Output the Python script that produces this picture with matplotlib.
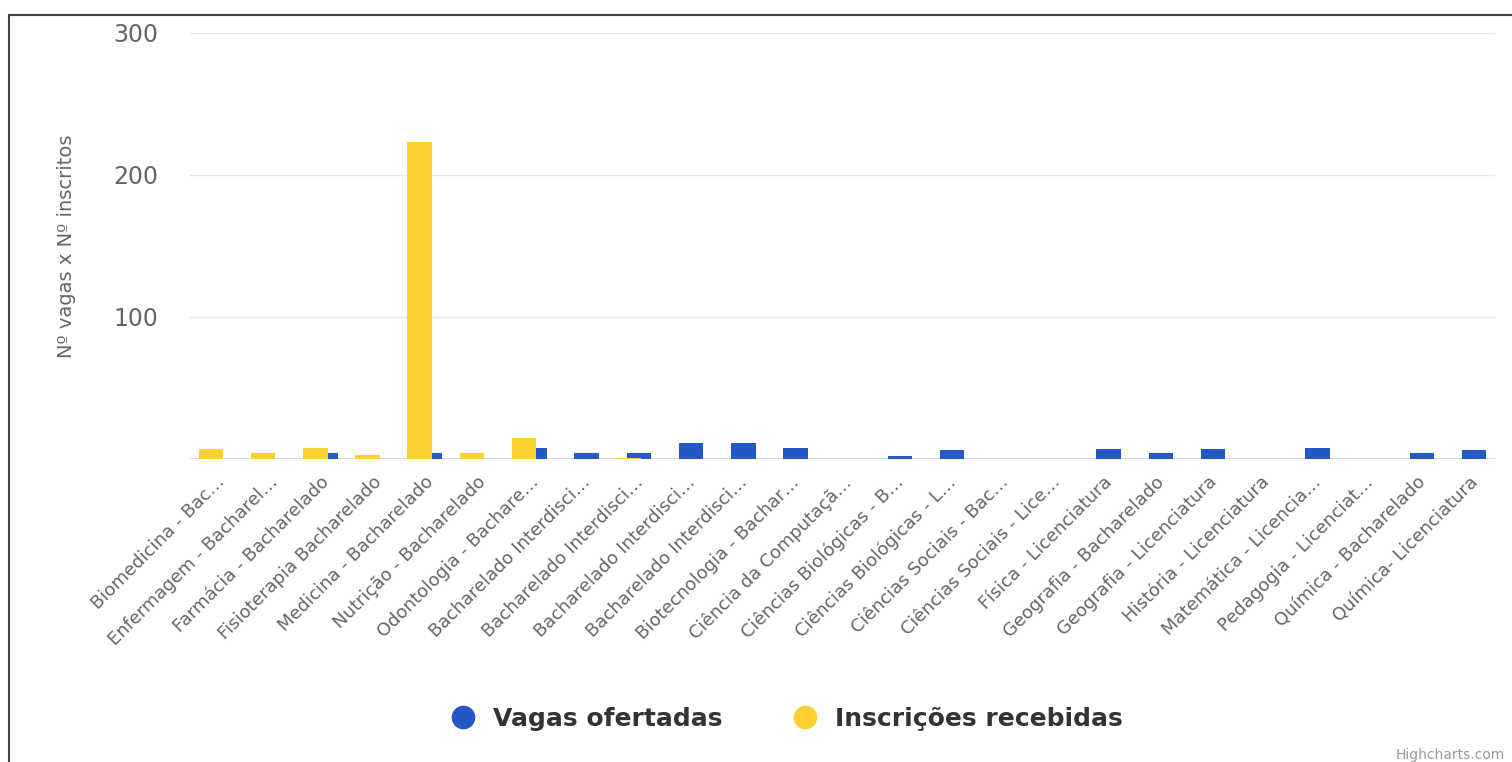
import matplotlib.pyplot as plt
from matplotlib.lines import Line2D
from matplotlib.patches import Rectangle
import numpy as np

cursos = ["Biomedicina - Bac…", "Enfermagem - Bacharel…", "Farmácia - Bacharelado",
          "Fisioterapia Bacharelado", "Medicina - Bacharelado", "Nutrição - Bacharelado",
          "Odontologia - Bachare…", "Bacharelado Interdisci…", "Bacharelado Interdisci…",
          "Bacharelado Interdisci…", "Bacharelado Interdisci…", "Biotecnologia - Bachar…",
          "Ciência da Computaçã…", "Ciências Biológicas - B…", "Ciências Biológicas - L…",
          "Ciências Sociais - Bac…", "Ciências Sociais - Lice…", "Física - Licenciatura",
          "Geografia - Bacharelado", "Geografia - Licenciatura", "História - Licenciatura",
          "Matemática - Licencia…", "Pedagogia - Licenciat…", "Química - Bacharelado",
          "Química- Licenciatura"]
vagas = [0, 0, 4, 0, 4, 0, 8, 4, 4, 11, 11, 8, 0, 2, 6, 0, 0, 7, 4, 7, 0, 8, 0, 4, 6]
inscricoes = [7, 4, 8, 3, 223, 4, 15, 0, 1, 0, 0, 0, 0, 0, 0, 0, 0, 0, 0, 0, 0, 0, 0, 0, 0]

azul = '#2458c6'
amarelo = '#fdd12f'

fig = plt.figure(figsize=(15.12, 7.62), dpi=100)
ax = fig.add_axes([190/1512, 1-459/762, 1305/1512, (459-33)/762])

x = np.arange(len(cursos))
w = 0.47
ax.bar(x + 0.1, vagas, width=w, color=azul, zorder=2)
ax.bar(x - 0.1, inscricoes, width=w, color=amarelo, zorder=3)

ax.set_xlim(-0.5, len(cursos) - 0.5)
ax.set_ylim(0, 300)
ax.set_yticks([0, 100, 200, 300])
ax.set_yticklabels(['', '100', '200', '300'], fontsize=17, color='#666666')
ax.grid(axis='y', color='#e6e6e6', lw=1, zorder=0)
ax.axhline(0, color='#ccd6eb', lw=1.2, zorder=1)
for s in ax.spines.values():
    s.set_visible(False)
ax.tick_params(axis='y', length=0, pad=23)
ax.tick_params(axis='x', length=0, pad=10)
ax.set_xticks(x)
ax.set_xticklabels(cursos, rotation=45, ha='right', rotation_mode='anchor',
                   fontsize=13, color='#666666')
ax.set_ylabel("Nº vagas x Nº inscritos", fontsize=14, color='#666666', labelpad=27)

handles = [Line2D([], [], marker='o', ls='', color=azul, markersize=16),
           Line2D([], [], marker='o', ls='', color=amarelo, markersize=16)]
fig.legend(handles, ["Vagas ofertadas", "Inscrições recebidas"], loc='center',
           bbox_to_anchor=(0.516, 1-719/762), ncol=2, frameon=False,
           prop={'size': 18, 'weight': 'bold'}, labelcolor='#333333',
           handletextpad=0.2, columnspacing=2.3)

fig.text(0.995, 1-755/762, "Highcharts.com", ha='right', va='center',
         fontsize=10, color='#999999')

fig.patches.append(Rectangle((9/1512, -0.05), 1.1, 1.05 - 15/762, transform=fig.transFigure,
                             fill=False, edgecolor='#444444', lw=1.5))

plt.savefig("out.png")
